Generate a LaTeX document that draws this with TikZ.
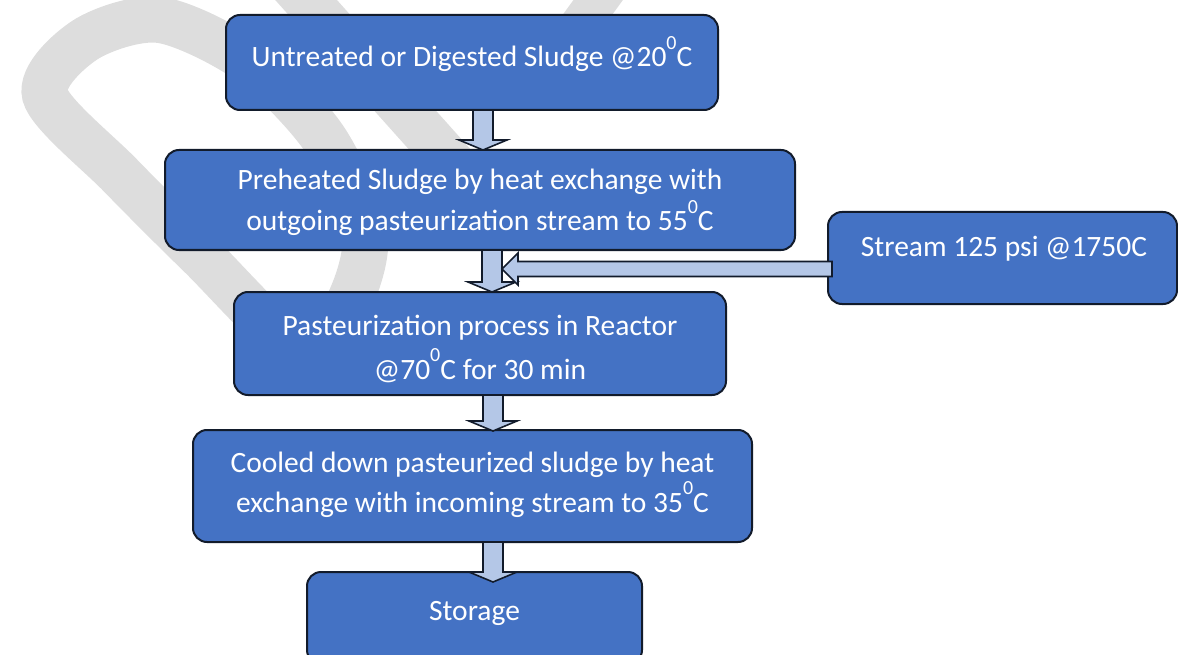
\documentclass[tikz,border=0pt]{standalone}
\usepackage{fontspec}
\setmainfont{Carlito}
\usetikzlibrary{calc}

\definecolor{boxblue}{HTML}{4472C4}
\definecolor{edgedark}{HTML}{121B2B}
\definecolor{arrowfill}{HTML}{B4C7E7}
\definecolor{wmgray}{HTML}{DDDDDD}

\pgfdeclarelayer{background}
\pgfsetlayers{background,main}

% raised "0" used as a degree sign
\newcommand{\degsup}{\raisebox{0.58em}{\fontsize{20}{20}\selectfont 0}}

% downward block arrow: #1 source node, #2 target node, #3 x position, #4 overshoot of the tip
\newcommand{\blockdown}[4]{%
  \draw[blockarrow] let \p1=(#1.south), \p2=(#2.north) in
    ({#3pt-10pt},\y1) -- ({#3pt-10pt},\y2-#4pt+10pt) -- ({#3pt-24pt},\y2-#4pt+10pt)
    -- ({#3pt},\y2-#4pt) -- ({#3pt+24pt},\y2-#4pt+10pt) -- ({#3pt+10pt},\y2-#4pt+10pt)
    -- ({#3pt+10pt},\y1) -- cycle;}

\begin{document}
\begin{tikzpicture}[x=1pt,y=-1pt,
  box/.style={draw=edgedark, line width=2pt, fill=boxblue, rounded corners=14pt,
              inner sep=0pt, outer sep=0pt},
  boxtext/.style={text=white, align=center, anchor=base, inner sep=0pt},
  blockarrow/.style={draw=edgedark, line width=1.6pt, fill=arrowfill, line join=miter},
  watermark/.style={draw=wmgray, line width=46pt}]

\useasboundingbox (0,0) rectangle (1178,655);
\clip (0,0) rectangle (1178,655);

% process boxes
\node[box, minimum width=492pt, minimum height=95pt]  (b1) at (472,62.5) {};
\node[box, minimum width=630pt, minimum height=100pt] (b2) at (480,200) {};
\node[box, minimum width=492pt, minimum height=103pt] (b3) at (480,343.5) {};
\node[box, minimum width=559pt, minimum height=112pt] (b4) at (472.5,486) {};
\node[box, minimum width=335pt, minimum height=92pt]  (b5) at (474.5,618) {};
\node[box, minimum width=349pt, minimum height=92pt]  (st) at (1002.5,258) {};

% box texts (base anchor = baseline of the last line)
\node[boxtext, font=\fontsize{29.5}{40}\selectfont] (t1) at (472,67)
  {Untreated or Digested Sludge @20\degsup C};
\node[boxtext, font=\fontsize{29.5}{41}\selectfont] (t2) at (480,231)
  {Preheated Sludge by heat exchange with\\outgoing pasteurization stream to 55\degsup C};
\node[boxtext, font=\fontsize{29.5}{44}\selectfont] (t3) at (480,379)
  {Pasteurization process in Reactor\\@70\degsup C for 30 min};
\node[boxtext, font=\fontsize{29.5}{40}\selectfont] (t4) at (472.5,512)
  {Cooled down pasteurized sludge by heat\\exchange with incoming stream to 35\degsup C};
\node[boxtext, font=\fontsize{29.5}{40}\selectfont] (t5) at (474.5,620) {Storage};
\node[boxtext, font=\fontsize{29.5}{40}\selectfont] (t6) at (1004,257) {Stream 125 psi @1750C};

% flow arrows
\blockdown{b1}{b2}{483}{0}
\blockdown{b2}{b3}{492}{0}
\blockdown{b3}{b4}{493}{1}
\blockdown{b4}{b5}{493}{10}

% steam feed arrow entering beside the second arrow
\coordinate (feed) at (502,269);
\draw[blockarrow] let \p1=(st.west), \p2=(feed) in
  (\x1+4pt,\y2+7.5pt) -- (\x2+16pt,\y2+7.5pt) -- (\x2+16pt,\y2+16pt) -- (\x2,\y2)
  -- (\x2+16pt,\y2-16pt) -- (\x2+16pt,\y2-7.5pt) -- (\x1+4pt,\y2-7.5pt) -- cycle;

% faint watermark strokes behind the chart
\begin{pgfonlayer}{background}
  \draw[watermark] plot[smooth cycle, tension=0.5] coordinates
    {(300,350) (200,255) (120,175) (45,95) (85,40) (160,20) (250,62) (325,140) (365,235) (345,310)};
  \draw[watermark] (290,-18) -- (485,200);
  \draw[watermark, line width=40pt] (620,-30) -- (540,80);
\end{pgfonlayer}
\end{tikzpicture}
\end{document}
